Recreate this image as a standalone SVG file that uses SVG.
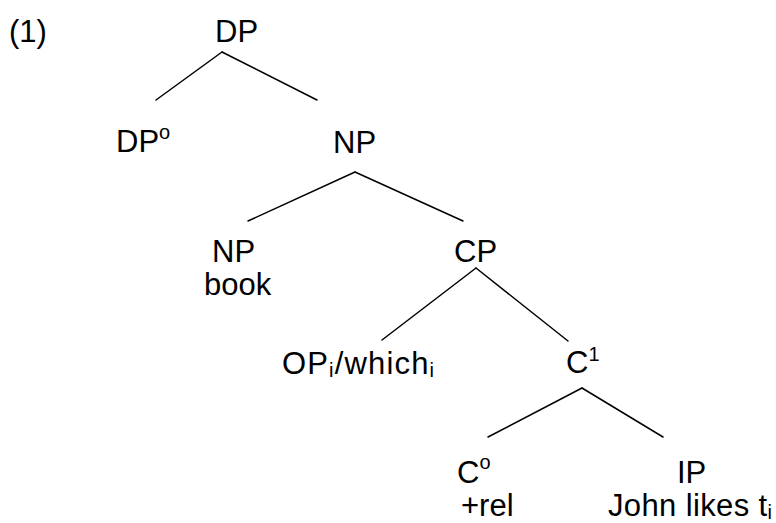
<svg xmlns="http://www.w3.org/2000/svg" width="776" height="523" viewBox="0 0 776 523">
  <style>
    text { font-family: "Liberation Sans", Arial, sans-serif; font-size: 31px; fill: #000; }
    .sm { font-size: 20px; }
    .edge { stroke: #000; stroke-width: 1.5; fill: none; stroke-linecap: round; }
  </style>
  <rect width="776" height="523" fill="#fff"/>

  <!-- example number -->
  <text id="exnum" x="9" y="42">(1)</text>

  <!-- tree edges -->
  <g id="connectors">
    <line class="edge" x1="222" y1="52" x2="156" y2="100"/>
    <line class="edge" x1="222" y1="52" x2="317" y2="100"/>
    <line class="edge" x1="355" y1="172" x2="248" y2="221"/>
    <line class="edge" x1="355" y1="172" x2="463" y2="221"/>
    <line class="edge" x1="476" y1="268" x2="382" y2="340"/>
    <line class="edge" x1="476" y1="268" x2="568" y2="341"/>
    <line class="edge" x1="582" y1="388" x2="488" y2="437"/>
    <line class="edge" x1="582" y1="388" x2="663" y2="437"/>
  </g>

  <!-- tree nodes -->
  <g id="dp-root"><text x="215" y="42">DP</text></g>
  <g id="dp-head"><text x="116" y="152">DP<tspan class="sm" dy="-13">o</tspan></text></g>
  <g id="np-top"><text x="333" y="153">NP</text></g>
  <g id="np-book">
    <text x="212" y="262">NP</text>
    <text x="204" y="295">book</text>
  </g>
  <g id="cp"><text x="454" y="262">CP</text></g>
  <g id="op-which"><text x="282" y="374" textLength="152">OP<tspan class="sm" dy="3">i</tspan><tspan dy="-3">/which</tspan><tspan class="sm" dy="3">i</tspan></text></g>
  <g id="c-bar"><text x="566" y="373">C<tspan class="sm" dy="-12">1</tspan></text></g>
  <g id="c-head">
    <text x="457" y="483">C<tspan class="sm" dy="-14">o</tspan></text>
    <text x="461" y="516">+rel</text>
  </g>
  <g id="ip">
    <text x="677" y="483">IP</text>
    <text x="608" y="516" textLength="164">John likes t<tspan class="sm" dy="3">i</tspan></text>
  </g>
</svg>
